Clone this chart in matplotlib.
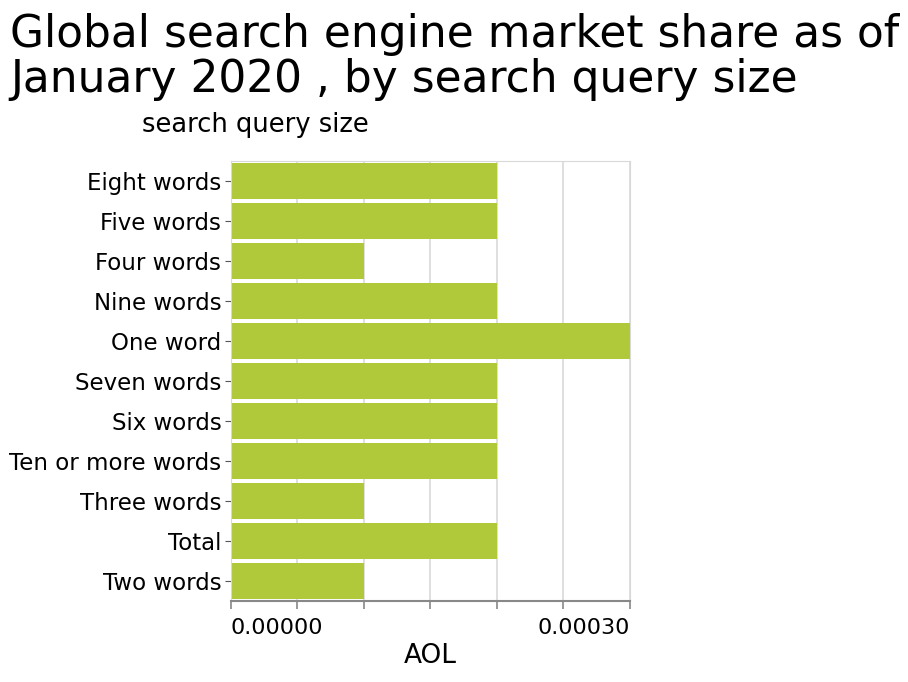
import matplotlib.pyplot as plt
import numpy as np

categories = ["Eight words", "Five words", "Four words", "Nine words", "One word",
              "Seven words", "Six words", "Ten or more words", "Three words",
              "Total", "Two words"]
aol_share = [0.0002, 0.0002, 0.0001, 0.0002, 0.0003,
             0.0002, 0.0002, 0.0002, 0.0001, 0.0002, 0.0001]

fig = plt.figure(figsize=(9.08, 6.82), dpi=100)
ax = fig.add_axes([231/908, 1 - 601/682, (630 - 231)/908, (601 - 161)/682])

y = np.arange(len(categories))
ax.barh(y, aol_share, height=0.9, color="#afc93a", zorder=2)
ax.set_ylim(len(categories) - 0.5, -0.5)
ax.set_xlim(0, 0.0003)
ax.set_yticks(y)
ax.set_yticklabels(categories, fontsize=16.5, va="center_baseline")

ticks = np.arange(0, 0.00031, 0.00005)
ax.set_xticks(ticks)
ax.set_xticklabels(["0.00000", "", "", "", "", "", "0.00030"], fontsize=16)
lbls = ax.get_xticklabels()
lbls[0].set_ha("left")
lbls[-1].set_ha("right")

ax.grid(axis="x", color="#d9d9d9", linewidth=1.2, zorder=0)
for s in ["top", "right"]:
    ax.spines[s].set_color("#d9d9d9")
ax.spines["left"].set_color("#d9d9d9")
ax.spines["bottom"].set_color("#888888")
ax.spines["bottom"].set_linewidth(1.5)
ax.tick_params(axis="x", length=6, color="#888888", width=1.2, pad=6)
ax.tick_params(axis="y", length=4, color="#555555", pad=3)

ax.set_xlabel("AOL", fontsize=19, labelpad=4)
fig.text(142/908, 1 - 125/682, "search query size", fontsize=18.5, va="center")
fig.text(10/908, 1 - 57/682, "Global search engine market share as of\nJanuary 2020 , by search query size",
         fontsize=31.6, va="center", linespacing=1.05)

fig.savefig("out.png", dpi=100)
